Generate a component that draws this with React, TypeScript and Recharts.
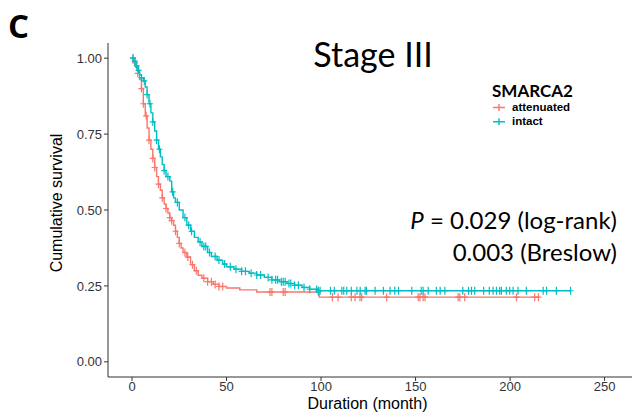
import React from 'react'
import { ComposedChart, Line, XAxis, YAxis } from 'recharts'

// Kaplan-Meier steps (time in months, survival)
const intactStepTimes = [0, 1, 2, 3, 4, 5, 6, 7, 8, 9, 10, 11, 12, 13, 14, 15, 16, 17, 18, 20, 21, 22, 23, 25, 27, 29, 31, 33, 35, 37, 40, 42, 45, 48, 50, 54, 58, 62, 66, 70, 74, 78, 82, 86, 90, 94, 98]
const intactStepSurv = [1.0, 0.99, 0.975, 0.96, 0.945, 0.935, 0.925, 0.905, 0.88, 0.85, 0.82, 0.79, 0.76, 0.73, 0.7, 0.675, 0.65, 0.63, 0.61, 0.595, 0.56, 0.54, 0.525, 0.5, 0.475, 0.45, 0.43, 0.41, 0.395, 0.38, 0.36, 0.347, 0.335, 0.322, 0.313, 0.305, 0.298, 0.292, 0.286, 0.278, 0.27, 0.264, 0.258, 0.252, 0.245, 0.239, 0.234]
const intactCensorTimes = [0.5, 1.5, 2.5, 3.5, 5, 6.5, 8, 9.5, 11, 13, 14.5, 17, 19, 21.5, 24, 28, 30, 31.5, 36, 38, 39, 41, 44, 46, 49, 52, 55, 58, 60, 63, 66, 68, 72, 74, 76, 77, 79, 80, 81, 83, 84, 86, 88, 91, 94, 97.7, 98.6, 99.5, 105, 107, 111, 112, 113.6, 116, 119, 120.7, 123.3, 124, 128.6, 133, 136.5, 139, 141, 148, 153, 154, 156.7, 161, 163, 165.5, 175, 178, 179.6, 181.3, 186, 189, 191, 192.8, 194.5, 195.4, 198, 199.8, 201.6, 204.2, 208.6, 217.5, 219.3, 224.5, 232]

const attenuatedStepTimes = [0, 1, 2, 3, 4, 5, 6, 7, 8, 9, 10, 11, 12, 13, 14, 15, 16, 17, 18, 19, 20, 21, 22, 23, 24, 25, 26, 27, 29, 31, 33, 35, 37, 40, 43, 46, 50, 57, 66, 99]
const attenuatedStepSurv = [1.0, 0.985, 0.97, 0.95, 0.93, 0.9, 0.85, 0.81, 0.77, 0.73, 0.7, 0.67, 0.64, 0.61, 0.585, 0.565, 0.54, 0.52, 0.505, 0.49, 0.475, 0.465, 0.45, 0.43, 0.41, 0.39, 0.375, 0.36, 0.345, 0.32, 0.3, 0.285, 0.275, 0.264, 0.255, 0.248, 0.243, 0.237, 0.23, 0.213]
const attenuatedCensorTimes = [0.5, 1.5, 3, 5, 6, 7.5, 9, 11, 12, 14, 16, 18, 20, 21, 23, 25, 28, 29.5, 32, 34, 38, 40, 42, 44, 46, 48, 73, 74, 80, 81, 98.6, 106, 109, 116, 118, 120.6, 121.5, 134.7, 151.4, 152.3, 154, 155, 172.5, 173.4, 176, 203.4, 213, 215]

const xTicks = [0, 50, 100, 150, 200, 250]
const yTicks = [0, 0.25, 0.5, 0.75, 1]

const RED = '#F8766D'
const TEAL = '#00BFC4'

type Pt = { t: number; s: number; c: number }

const buildCurve = (times: number[], surv: number[], censors: number[]): Pt[] => {
  const survAt = (t: number) => {
    let s = surv[0]
    for (let i = 0; i < times.length; i++) if (times[i] <= t) s = surv[i]
    return s
  }
  const pts: Pt[] = times.map((t, i) => ({ t, s: surv[i], c: 0 }))
  censors.forEach((t) => pts.push({ t, s: survAt(t), c: 1 }))
  return pts.sort((a, b) => a.t - b.t || a.c - b.c)
}

const intactData = buildCurve(intactStepTimes, intactStepSurv, intactCensorTimes)
const attenuatedData = buildCurve(attenuatedStepTimes, attenuatedStepSurv, attenuatedCensorTimes)

const censorDot = (color: string) => (props: any) => {
  const { cx, cy, payload, index } = props
  if (!payload || !payload.c) return <g key={`n${index}`} />
  return (
    <path
      key={`c${index}`}
      d={`M${cx - 3},${cy}h6M${cx},${cy - 4}v8`}
      stroke={color}
      strokeWidth={1.2}
      fill="none"
    />
  )
}

const txt: React.CSSProperties = { position: 'absolute', whiteSpace: 'nowrap', lineHeight: 1 }

export default function App() {
  return (
    <div style={{ position: 'absolute', left: 0, top: 0, width: 632, height: 419, background: '#fff', fontFamily: 'Liberation Sans, Arial, sans-serif' }}>
      <ComposedChart width={632} height={419} margin={{ top: 43, right: 0, bottom: 0, left: 0 }}>
        <XAxis
          type="number"
          dataKey="t"
          domain={[-12.7, 264.5]}
          allowDataOverflow
          ticks={xTicks}
          height={42}
          tickSize={4}
          tickMargin={1}
          stroke="#333"
          tick={{ fontSize: 13, fill: '#333' }}
        />
        <YAxis
          type="number"
          dataKey="s"
          domain={[-0.05, 1.05]}
          allowDataOverflow
          ticks={yTicks}
          width={108}
          tickSize={4}
          tickMargin={2}
          stroke="#333"
          tickFormatter={(v: number) => v.toFixed(2)}
          tick={{ fontSize: 13, fill: '#333' }}
        />
        <Line data={attenuatedData} dataKey="s" type="stepAfter" stroke={RED} strokeWidth={1.4} dot={censorDot(RED)} activeDot={false} isAnimationActive={false} />
        <Line data={intactData} dataKey="s" type="stepAfter" stroke={TEAL} strokeWidth={1.4} dot={censorDot(TEAL)} activeDot={false} isAnimationActive={false} />
      </ComposedChart>

      <div style={{ ...txt, left: 8, top: 9, fontFamily: 'Open Sans', fontWeight: 700, fontSize: 33 }}>C</div>
      <div style={{ ...txt, left: 373, top: 37, transform: 'translateX(-50%)', fontFamily: 'Lato', fontSize: 34 }}>Stage III</div>

      <div style={{ ...txt, left: 492, top: 83, fontFamily: 'Lato', fontWeight: 700, fontSize: 17, lineHeight: 0.95 }}>SMARCA2</div>
      <svg style={{ position: 'absolute', left: 490, top: 100 }} width={20} height={30}>
        <path d="M3,7.5h12M9,4v7" stroke={RED} strokeWidth={1.4} />
        <path d="M3,21.8h12M9,18.3v7" stroke={TEAL} strokeWidth={1.4} />
      </svg>
      <div style={{ ...txt, left: 512, top: 102, fontWeight: 700, fontSize: 11.5 }}>attenuated</div>
      <div style={{ ...txt, left: 512, top: 116, fontWeight: 700, fontSize: 11.5 }}>intact</div>

      <div style={{ ...txt, right: 632 - 617, top: 208, fontFamily: 'Lato', fontSize: 24, textAlign: 'right' }}>
        <i>P</i> = 0.029 (log-rank)
      </div>
      <div style={{ ...txt, right: 632 - 617, top: 240, fontFamily: 'Lato', fontSize: 24, textAlign: 'right' }}>0.003 (Breslow)</div>

      <div style={{ ...txt, left: 367.5, top: 396, transform: 'translateX(-50%)', fontSize: 16 }}>Duration (month)</div>
      <div style={{ ...txt, left: 56.5, top: 203, transform: 'translate(-50%, -50%) rotate(-90deg)', fontSize: 16 }}>Cumulative survival</div>
    </div>
  )
}
